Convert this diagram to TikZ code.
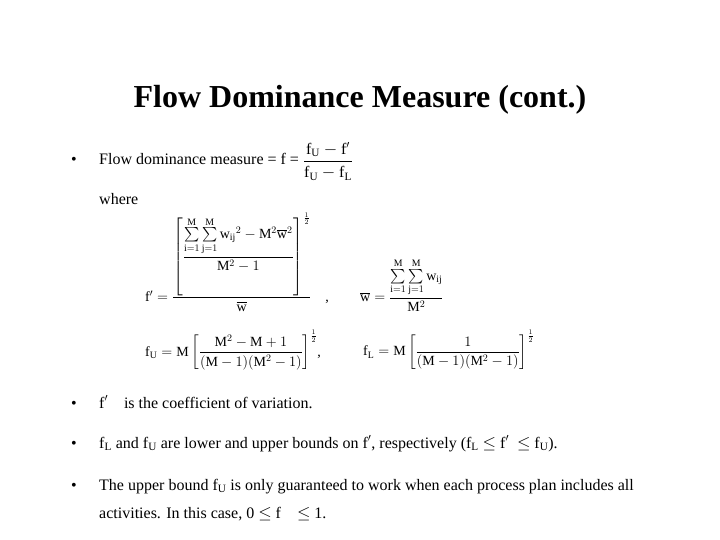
\documentclass[tikz,border=0pt]{standalone}
\usepackage{amsmath}
\usepackage{fontspec}
\setmainfont{Liberation Serif}
\newcommand{\rr}[1]{\mathrm{#1}}
\begin{document}
\begin{tikzpicture}[x=1pt,y=-1pt,
  txt/.style={anchor=base west,inner sep=0pt,font=\fontsize{16}{18}\selectfont},
  bul/.style={anchor=base,inner sep=0pt,font=\fontsize{16}{18}\selectfont},
  eq/.style={anchor=west,inner sep=0pt,font=\fontsize{14}{16}\selectfont}]
\useasboundingbox (0,0) rectangle (720,540);
\fill[white] (0,0) rectangle (720,540);
\node[anchor=base,inner sep=0pt,font=\fontsize{32}{36}\selectfont\bfseries] (title) at (360,108) {Flow Dominance Measure (cont.)};
\node[bul] (b1) at (74,165) {•};
\node[txt] (t1) at (99,165) {Flow dominance measure = f = \raisebox{-1pt}{$\dfrac{\rr{f_U}-\rr{f}'}{\rr{f_U}-\rr{f_L}}$}};
\node[txt] (t2) at (99,205) {where};
\node[eq] (e1) at (145,262) {$\rr{f}' = \dfrac{\left[\dfrac{\sum\limits_{\rr{i}=1}^{\rr{M}}\sum\limits_{\rr{j}=1}^{\rr{M}}\rr{w_{ij}}^2-\rr{M}^2\overline{\rr{w}}^2}{\rr{M}^2-1}\right]^{\frac12}}{\overline{\rr{w}}}$\quad ,};
\node[eq] (e2) at (360,285) {$\overline{\rr{w}} = \dfrac{\sum\limits_{\rr{i}=1}^{\rr{M}}\sum\limits_{\rr{j}=1}^{\rr{M}}\rr{w_{ij}}}{\rr{M}^2}$};
\node[eq] (e3) at (145,350) {$\rr{f_U} = \rr{M}\left[\dfrac{\rr{M}^2-\rr{M}+1}{(\rr{M}-1)(\rr{M}^2-1)}\right]^{\frac12}$,};
\node[eq] (e4) at (363,350) {$\rr{f_L} = \rr{M}\left[\dfrac{1}{(\rr{M}-1)(\rr{M}^2-1)}\right]^{\frac12}$};
\node[bul] (b2) at (74,408) {•};
\node[txt] (t3) at (99,408) {f$'$\quad is the coefficient of variation.};
\node[bul] (b3) at (74,448) {•};
\node[txt] (t4) at (99,448) {f$_\mathrm{L}$ and f$_\mathrm{U}$ are lower and upper bounds on f$'$, respectively (f$_\mathrm{L}$ $\le$ f$'$\ \ $\le$ f$_\mathrm{U}$).};
\node[bul] (b4) at (74,490) {•};
\node[txt] (t5) at (99,490) {The upper bound f$_\mathrm{U}$ is only guaranteed to work when each process plan includes all};
\node[txt] (t6) at (99,518) {activities. In this case, 0 $\le$ f\quad $\le$ 1.};
\end{tikzpicture}
\end{document}
